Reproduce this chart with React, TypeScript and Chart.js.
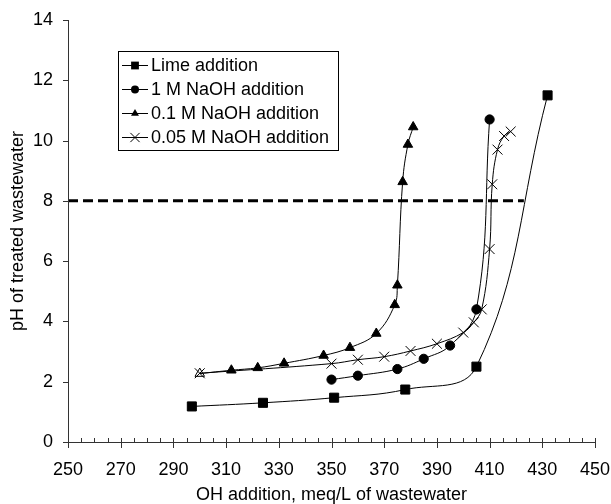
import React, { useEffect, useRef } from "react";
import { Chart, registerables } from "chart.js";

Chart.register(...registerables);

// ---- data ----
const limeX = [297, 324, 351, 378, 405, 432];
const limeY = [1.18, 1.3, 1.47, 1.74, 2.5, 11.5];
const naoh1X = [350, 360, 375, 385, 395, 405, 410];
const naoh1Y = [2.07, 2.2, 2.42, 2.76, 3.2, 4.4, 10.7];
const naoh01X = [300, 312, 322, 332, 347, 357, 367, 374, 375, 377, 379, 381];
const naoh01Y = [2.27, 2.38, 2.46, 2.61, 2.87, 3.13, 3.6, 4.55, 5.2, 8.63, 9.87, 10.45];
const naoh005X = [300, 350, 360, 370, 380, 390, 400, 404, 407, 410, 411, 413, 415.5, 418];
const naoh005Y = [2.28, 2.6, 2.73, 2.83, 3.02, 3.26, 3.63, 3.97, 4.4, 6.4, 8.55, 9.7, 10.15, 10.3];
const thresholdX = [250, 423];
const thresholdY = [8, 8];

const seriesLabels = [
  "Lime addition",
  "1 M NaOH addition",
  "0.1 M NaOH addition",
  "0.05 M NaOH addition",
];
const xTitle = "OH addition, meq/L of wastewater";
const yTitle = "pH of treated wastewater";

const FONT = "'Liberation Sans', Arial, sans-serif";
const FS = 18;

const pts = (xs: number[], ys: number[]) => xs.map((x, i) => ({ x, y: ys[i] }));

function drawMarker(ctx: CanvasRenderingContext2D, style: string, x: number, y: number, r: number) {
  ctx.save();
  ctx.fillStyle = "#000";
  ctx.strokeStyle = "#000";
  ctx.lineWidth = 1;
  ctx.beginPath();
  if (style === "rect") {
    const s = Math.SQRT1_2 * r;
    ctx.rect(x - s, y - s, 2 * s, 2 * s);
    ctx.fill();
  } else if (style === "circle") {
    ctx.arc(x, y, r, 0, Math.PI * 2);
    ctx.fill();
  } else if (style === "triangle") {
    const h = (r * 3) / 2;
    const w = r * Math.sqrt(3);
    ctx.moveTo(x, y - (2 * h) / 3);
    ctx.lineTo(x + w / 2, y + h / 3);
    ctx.lineTo(x - w / 2, y + h / 3);
    ctx.closePath();
    ctx.fill();
  } else if (style === "crossRot") {
    const o = Math.SQRT1_2 * r;
    ctx.moveTo(x - o, y - o);
    ctx.lineTo(x + o, y + o);
    ctx.moveTo(x - o, y + o);
    ctx.lineTo(x + o, y - o);
    ctx.stroke();
  }
  ctx.restore();
}

const axesPlugin = {
  id: "axesTicks",
  afterDatasetsDraw(chart: any) {
    const { ctx, chartArea, scales } = chart;
    const xs = scales.x;
    const ys = scales.y;
    ctx.save();
    ctx.strokeStyle = "#333";
    ctx.lineWidth = 1;
    ctx.beginPath();
    ctx.moveTo(chartArea.left + 0.5, chartArea.top);
    ctx.lineTo(chartArea.left + 0.5, chartArea.bottom + 0.5);
    ctx.moveTo(chartArea.left, chartArea.bottom + 0.5);
    ctx.lineTo(chartArea.right, chartArea.bottom + 0.5);
    for (let v = 0; v <= 14; v += 2) {
      const py = Math.round(ys.getPixelForValue(v)) + 0.5;
      ctx.moveTo(chartArea.left - 5, py);
      ctx.lineTo(chartArea.left, py);
    }
    for (let v = 250; v <= 450; v += 5) {
      const px = Math.round(xs.getPixelForValue(v)) + 0.5;
      const major = (v - 250) % 20 === 0;
      ctx.moveTo(px, chartArea.bottom - 4);
      ctx.lineTo(px, chartArea.bottom + (major ? 6 : 0.5));
    }
    ctx.stroke();
    ctx.restore();
  },
  afterDraw(chart: any) {
    const { ctx } = chart;
    const bx = 118, by = 51, bw = 220, bh = 99;
    ctx.save();
    ctx.fillStyle = "#fff";
    ctx.fillRect(bx, by, bw, bh);
    ctx.strokeStyle = "#000";
    ctx.lineWidth = 1;
    ctx.strokeRect(bx + 0.5, by + 0.5, bw, bh);
    ctx.font = `${FS}px ${FONT}`;
    ctx.textBaseline = "middle";
    ctx.fillStyle = "#000";
    const items = chart.data.datasets.filter((d: any) => d.inLegend);
    items.forEach((d: any, i: number) => {
      const y = 65 + i * 24;
      ctx.beginPath();
      ctx.strokeStyle = "#000";
      ctx.lineWidth = 1;
      ctx.moveTo(122, y + 0.5);
      ctx.lineTo(148, y + 0.5);
      ctx.stroke();
      drawMarker(ctx, d.pointStyle, 135, y + 0.5, d.legendRadius);
      ctx.fillStyle = "#000";
      ctx.fillText(d.label, 151, y + 1);
    });
    ctx.restore();
  },
};

export default function App() {
  const ref = useRef<HTMLCanvasElement | null>(null);
  useEffect(() => {
    document.body.style.margin = "0";
    const canvas = ref.current!;
    const common = {
      showLine: true,
      borderColor: "#000",
      backgroundColor: "#000",
      pointBorderColor: "#000",
      borderWidth: 1,
      tension: 0.4,
      pointHoverRadius: 0,
      inLegend: true,
    };
    const chart = new Chart(canvas, {
      type: "scatter",
      data: {
        datasets: [
          {
            ...common,
            label: seriesLabels[0],
            data: pts(limeX, limeY),
            pointStyle: "rect",
            pointRadius: 6.4,
            legendRadius: 5.5,
            pointBackgroundColor: "#000",
          },
          {
            ...common,
            label: seriesLabels[1],
            data: pts(naoh1X, naoh1Y),
            pointStyle: "circle",
            pointRadius: 4.6,
            legendRadius: 4,
            pointBackgroundColor: "#000",
          },
          {
            ...common,
            label: seriesLabels[2],
            data: pts(naoh01X, naoh01Y),
            pointStyle: "triangle",
            pointRadius: 5.5,
            legendRadius: 4.6,
            pointBackgroundColor: naoh01X.map((_, i) => (i === 0 ? "rgba(0,0,0,0)" : "#000")),
          },
          {
            ...common,
            label: seriesLabels[3],
            data: pts(naoh005X, naoh005Y),
            pointStyle: "crossRot",
            pointRadius: 7,
            legendRadius: 6.5,
            pointBorderWidth: 1,
            pointBackgroundColor: "#000",
          },
          {
            label: "pH 8",
            data: pts(thresholdX, thresholdY),
            showLine: true,
            borderColor: "#000",
            borderWidth: 3,
            borderDash: [10, 5],
            pointRadius: 0,
            tension: 0,
            inLegend: false,
          },
        ] as any,
      },
      options: {
        animation: false,
        responsive: true,
        maintainAspectRatio: false,
        events: [],
        layout: { padding: { top: 20, right: 16, left: 0, bottom: 0 } },
        plugins: { legend: { display: false }, tooltip: { enabled: false } },
        scales: {
          x: {
            type: "linear",
            min: 250,
            max: 450,
            border: { display: false },
            grid: { display: false, drawTicks: true, tickLength: 17 },
            ticks: {
              stepSize: 20,
              padding: 0,
              color: "#000",
              font: { family: FONT, size: FS },
              maxRotation: 0,
            },
            title: {
              display: true,
              text: xTitle,
              color: "#000",
              font: { family: FONT, size: FS, lineHeight: 1 },
              padding: { top: 0, bottom: 0 },
            },
            afterFit: (s: any) => {
              s.height = 62;
            },
          },
          y: {
            type: "linear",
            min: 0,
            max: 14,
            border: { display: false },
            grid: { display: false, drawTicks: true, tickLength: 15 },
            ticks: {
              stepSize: 2,
              padding: 0,
              color: "#000",
              font: { family: FONT, size: FS },
            },
            title: {
              display: true,
              text: yTitle,
              color: "#000",
              font: { family: FONT, size: FS, lineHeight: 1 },
              padding: { top: 9, bottom: 0 },
            },
            afterFit: (s: any) => {
              s.width = 68;
            },
          },
        },
      },
      plugins: [axesPlugin],
    });
    return () => chart.destroy();
  }, []);
  return (
    <div style={{ position: "fixed", left: 0, top: 0, width: 611, height: 504, background: "#fff" }}>
      <canvas ref={ref} />
    </div>
  );
}
